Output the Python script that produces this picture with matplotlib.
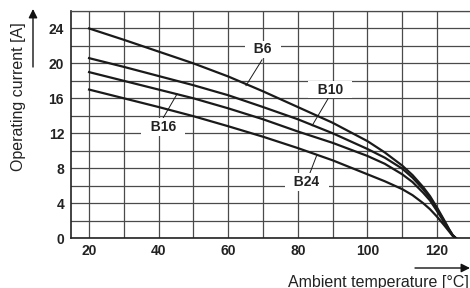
#!/usr/bin/env python3
"""Derating curves: operating current vs ambient temperature (B6/B10/B16/B24)."""

import matplotlib
matplotlib.use('Agg')
import matplotlib.pyplot as plt
from matplotlib.ticker import MultipleLocator

plt.rcParams['font.family'] = ['Liberation Sans', 'DejaVu Sans']

# data
temps = [20, 30, 40, 50, 60, 70, 80, 90, 100, 105, 110, 113, 116, 118, 120, 122, 123.5, 124.5, 125.4]
b6 = [24.0, 22.7, 21.35, 20.0, 18.5, 16.8, 15.0, 13.2, 11.1, 9.8, 8.3, 7.2, 5.85, 4.8, 3.5, 2.1, 1.0, 0.35, 0.0]
b10 = [20.6, 19.6, 18.55, 17.5, 16.35, 15.0, 13.6, 12.0, 10.2, 9.2, 7.95, 6.9, 5.6, 4.6, 3.35, 2.0, 0.95, 0.33, 0.0]
b16 = [19.0, 18.0, 17.0, 16.0, 14.85, 13.6, 12.2, 10.9, 9.4, 8.5, 7.3, 6.4, 5.2, 4.3, 3.1, 1.85, 0.9, 0.3, 0.0]
b24 = [17.0, 16.0, 15.0, 13.95, 12.8, 11.6, 10.3, 8.9, 7.3, 6.5, 5.6, 4.9, 4.0, 3.3, 2.45, 1.5, 0.75, 0.25, 0.0]

x_ticks = [20, 40, 60, 80, 100, 120]
y_ticks = [0, 4, 8, 12, 16, 20, 24]

# curve labels: name, text position, leader start, leader end (data coords)
labels = [
    ('B6', (70.0, 21.6), (69.7, 20.4), (65.1, 17.45)),
    ('B10', (89.3, 17.0), (88.7, 15.96), (84.1, 12.86)),
    ('B16', (41.3, 12.7), (41.0, 13.55), (45.3, 16.5)),
    ('B24', (82.6, 6.4), (83.5, 7.46), (85.5, 9.53)),
]


def main():
    fig = plt.figure(figsize=(4.7, 2.88), dpi=100)
    ax = fig.add_axes([71 / 470, 50 / 288, 1 - 71 / 470, 227 / 288])

    ax.set_xlim(14.8, 129.5)
    ax.set_ylim(0, 26)
    ax.xaxis.set_major_locator(plt.FixedLocator(x_ticks))
    ax.yaxis.set_major_locator(plt.FixedLocator(y_ticks))
    ax.xaxis.set_minor_locator(MultipleLocator(10))
    ax.yaxis.set_minor_locator(MultipleLocator(2))
    ax.grid(True, which='both', color='#4a4a4a', lw=0.9)
    ax.set_axisbelow(True)
    ax.tick_params(which='both', length=0)
    ax.tick_params(axis='y', pad=5)
    ax.tick_params(axis='x', pad=4)
    for lab in ax.get_xticklabels() + ax.get_yticklabels():
        lab.set_fontweight('bold')
        lab.set_fontsize(10)
        lab.set_color('#222222')

    ax.spines['right'].set_visible(False)
    ax.spines['top'].set_color('#4a4a4a')
    ax.spines['top'].set_linewidth(0.9)
    for s in ['left', 'bottom']:
        ax.spines[s].set_color('#222222')
        ax.spines[s].set_linewidth(1.2)

    for ys in (b6, b10, b16, b24):
        ax.plot(temps, ys, color='#1a1a1a', lw=1.6, solid_joinstyle='round', zorder=3)

    for name, tpos, p0, p1 in labels:
        ax.plot([p0[0], p1[0]], [p0[1], p1[1]], color='#1a1a1a', lw=0.7, zorder=3)
        ax.text(tpos[0], tpos[1], '  ' + name + '  ', ha='center', va='center',
                fontsize=10, fontweight='bold', color='#222222', zorder=4,
                bbox=dict(boxstyle='square,pad=0.12', fc='white', ec='none'))

    # axis titles with arrows
    fig.text(19 / 470, 191 / 288, 'Operating current [A]', rotation=90,
             ha='center', va='center', fontsize=11.5, color='#222222')
    ax.annotate('', xy=(33, 279), xytext=(33, 221), xycoords='figure pixels',
                textcoords='figure pixels',
                arrowprops=dict(arrowstyle='-|>', color='#111111', lw=1.0,
                                mutation_scale=13, shrinkA=0, shrinkB=0))
    fig.text(469 / 470, 1.5 / 288, 'Ambient temperature [°C]', ha='right',
             va='baseline', fontsize=11.5, color='#222222')
    ax.annotate('', xy=(470, 20), xytext=(415, 20), xycoords='figure pixels',
                textcoords='figure pixels',
                arrowprops=dict(arrowstyle='-|>', color='#111111', lw=1.0,
                                mutation_scale=13, shrinkA=0, shrinkB=0))

    fig.savefig('out.png', dpi=100)
    plt.close(fig)


if __name__ == '__main__':
    main()
